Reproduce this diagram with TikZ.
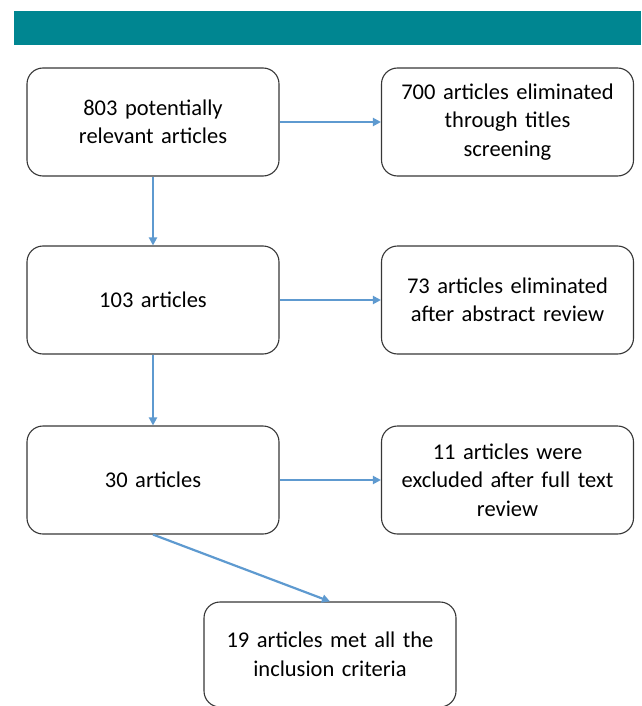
\documentclass[tikz,border=0pt]{standalone}
\usepackage{fontspec}
\setmainfont{Carlito}
\usetikzlibrary{arrows.meta}
\definecolor{tealbar}{RGB}{0,134,145}
\definecolor{arrowblue}{RGB}{94,154,208}
\definecolor{boxline}{RGB}{55,55,55}
\begin{document}
\begin{tikzpicture}[x=1pt,y=-1pt,
  box/.style={draw=boxline,line width=1.1pt,rounded corners=16pt,fill=white,
    minimum width=252pt,minimum height=108pt,text width=240pt,align=center,
    inner sep=0pt,font=\fontsize{22.5pt}{28.5pt}\selectfont},
  conn/.style={draw=arrowblue,line width=2.2pt,-{Triangle[length=8pt,width=8pt]}}]
\useasboundingbox (0,0) rectangle (641,706);
\fill[tealbar] (14,11) rectangle (641,45);
\node[box] (b1) at (153,122) {803 potentially\\relevant articles};
\node[box] (r1) at (507.5,122) {700 articles eliminated\\through titles\\screening};
\node[box] (b2) at (153,300) {103 articles};
\node[box] (r2) at (507.5,300) {73 articles eliminated\\after abstract review};
\node[box] (b3) at (153,480) {30 articles};
\node[box] (r3) at (507.5,480) {11 articles were\\excluded after full text\\review};
\node[box,minimum height=105pt] (b4) at (330,654.5) {19 articles met all the\\inclusion criteria};
\draw[conn] (b1.east) -- (r1.west);
\draw[conn] (b2.east) -- (r2.west);
\draw[conn] (b3.east) -- (r3.west);
\draw[conn] (b1.south) -- (b2.north);
\draw[conn] (b2.south) -- (b3.north);
\draw[conn] (b3.south) -- (b4.north);
\end{tikzpicture}
\end{document}
